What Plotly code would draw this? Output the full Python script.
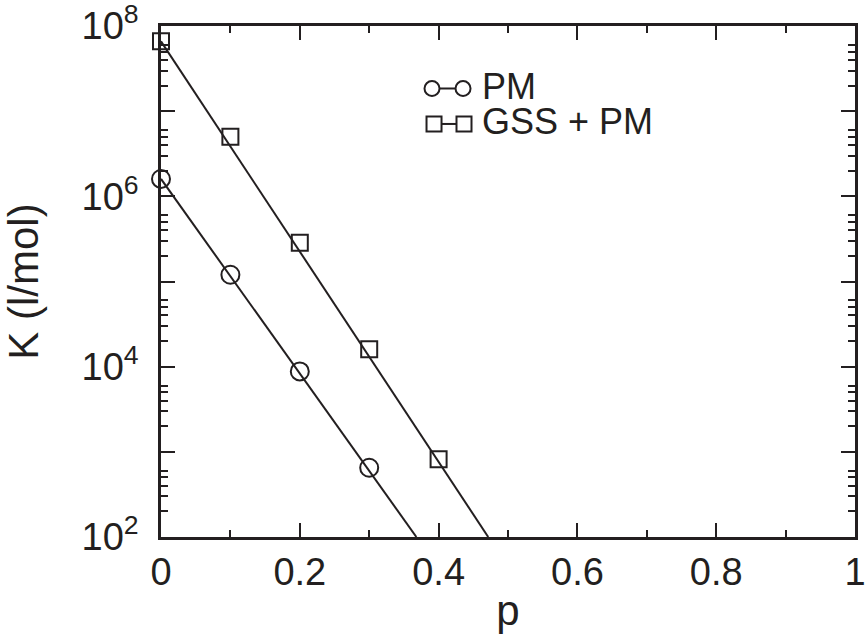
import plotly.graph_objects as go

# ---- data ----
p_pm = [0.0, 0.1, 0.2, 0.3]
K_pm = [1.6e6, 1.2e5, 8.8e3, 650]

p_gss = [0.0, 0.1, 0.2, 0.3, 0.4]
K_gss = [6.6e7, 5.0e6, 2.85e5, 1.6e4, 820]

# fitted straight lines (end points, log-linear)
pm_fit_p = [0.0, 0.368]
pm_fit_K = [1.6e6, 1.0e2]
gss_fit_p = [0.0, 0.4715]
gss_fit_K = [6.6e7, 1.0e2]

x_tickvals = [0, 0.2, 0.4, 0.6, 0.8, 1.0]
x_ticktext = ["0", "0.2", "0.4", "0.6", "0.8", "1"]
x_minor = [0.1, 0.3, 0.5, 0.7, 0.9]

y_labeled = [1e2, 1e4, 1e6, 1e8]
y_labels = ["10<sup>2</sup>", "10<sup>4</sup>", "10<sup>6</sup>", "10<sup>8</sup>"]
y_unlabeled = [1e3, 1e5, 1e7]
y_minor = [m * 10 ** e for e in range(2, 8) for m in (2, 3, 4, 5, 6)]

legend_labels = ["PM", "GSS + PM"]

INK = "#231f20"
FONT = "Liberation Sans, Arial, Helvetica, sans-serif"

fig = go.Figure()
fig.add_trace(go.Scatter(x=pm_fit_p, y=pm_fit_K, mode="lines",
                         line=dict(color=INK, width=2), showlegend=False))
fig.add_trace(go.Scatter(x=gss_fit_p, y=gss_fit_K, mode="lines",
                         line=dict(color=INK, width=2), showlegend=False))
fig.add_trace(go.Scatter(x=p_pm, y=K_pm, mode="markers", name=legend_labels[0],
                         marker=dict(symbol="circle-open", size=18, color=INK,
                                     line=dict(color=INK, width=2)),
                         showlegend=False, cliponaxis=False))
fig.add_trace(go.Scatter(x=p_gss, y=K_gss, mode="markers", name=legend_labels[1],
                         marker=dict(symbol="square-open", size=16, color=INK,
                                     line=dict(color=INK, width=2)),
                         showlegend=False, cliponaxis=False))
# empty trace so the overlay axis (unlabelled odd-decade ticks) is drawn
fig.add_trace(go.Scatter(x=[], y=[], yaxis="y2", showlegend=False, hoverinfo="skip"))

# ---- hand-drawn legend in xmgrace style (symbol-line-symbol) ----
def pshape(kind, xc, yc, half):
    return dict(type=kind, xref="paper", yref="paper", xsizemode="pixel", ysizemode="pixel",
                xanchor=xc, yanchor=yc, x0=-half, x1=half, y0=-half, y1=half,
                line=dict(color=INK, width=2), fillcolor="rgba(0,0,0,0)")

row1_y, row2_y = 0.8777, 0.8083
shapes = [
    pshape("circle", 0.3905, row1_y, 7.5),
    pshape("circle", 0.4352, row1_y, 7.5),
    dict(type="line", xref="paper", yref="paper", x0=0.4013, x1=0.4244, y0=row1_y, y1=row1_y,
         line=dict(color=INK, width=2)),
    pshape("rect", 0.3934, row2_y, 7.5),
    pshape("rect", 0.4366, row2_y, 7.5),
    dict(type="line", xref="paper", yref="paper", x0=0.4042, x1=0.4258, y0=row2_y, y1=row2_y,
         line=dict(color=INK, width=2)),
]
annotations = [
    dict(text=legend_labels[0], xref="paper", yref="paper", x=0.4600, y=row1_y + 0.004,
         xanchor="left", yanchor="middle", showarrow=False, font=dict(size=36, color=INK, family=FONT)),
    dict(text=legend_labels[1], xref="paper", yref="paper", x=0.4600, y=row2_y + 0.004,
         xanchor="left", yanchor="middle", showarrow=False, font=dict(size=36, color=INK, family=FONT)),
]

fig.update_layout(
    width=866, height=644,
    margin=dict(l=161, r=11, t=26, b=107),
    paper_bgcolor="white", plot_bgcolor="white",
    font=dict(family=FONT, color=INK, size=38),
    shapes=shapes, annotations=annotations,
    showlegend=False,
    yaxis2=dict(
        overlaying="y", anchor="x", side="left", type="log", range=[2, 8],
        tickmode="array", tickvals=y_unlabeled, showticklabels=False,
        ticks="inside", ticklen=14, tickwidth=2, tickcolor=INK,
        showline=True, linecolor=INK, linewidth=2.5, mirror="ticks",
        showgrid=False, zeroline=False, automargin=False,
    ),
)
fig.layout.xaxis.update(
    range=[0, 1], tickmode="array", tickvals=x_tickvals, ticktext=x_ticktext,
    ticks="inside", ticklen=14, tickwidth=2, tickcolor=INK,
    minor=dict(tickmode="array", tickvals=x_minor, ticks="inside", ticklen=7, tickwidth=2, tickcolor=INK),
    showline=True, linecolor=INK, linewidth=2.5, mirror="ticks",
    showgrid=False, zeroline=False, automargin=False,
    ticklabelstandoff=0, ticklabeloverflow="allow",
    tickfont=dict(size=38, family=FONT, color=INK),
    title=dict(text="p", font=dict(size=42, family=FONT, color=INK), standoff=4),
)
fig.layout.yaxis.update(
    type="log", range=[2, 8], tickmode="array", tickvals=y_labeled, ticktext=y_labels,
    ticks="inside", ticklen=14, tickwidth=2, tickcolor=INK,
    minor=dict(tickmode="array", tickvals=y_minor, ticks="inside", ticklen=7, tickwidth=2, tickcolor=INK),
    showline=True, linecolor=INK, linewidth=2.5, mirror="ticks",
    showgrid=False, zeroline=False, automargin=False,
    ticklabelstandoff=12, ticklabeloverflow="allow",
    tickfont=dict(size=38, family=FONT, color=INK),
    title=dict(text="K (l/mol)", font=dict(size=42, family=FONT, color=INK), standoff=32),
)

# remove the default page margin so the figure sits at the window's top-left corner
fig.write_html("out.html", config={"displayModeBar": False},
               post_script="document.body.style.margin='0px';")
